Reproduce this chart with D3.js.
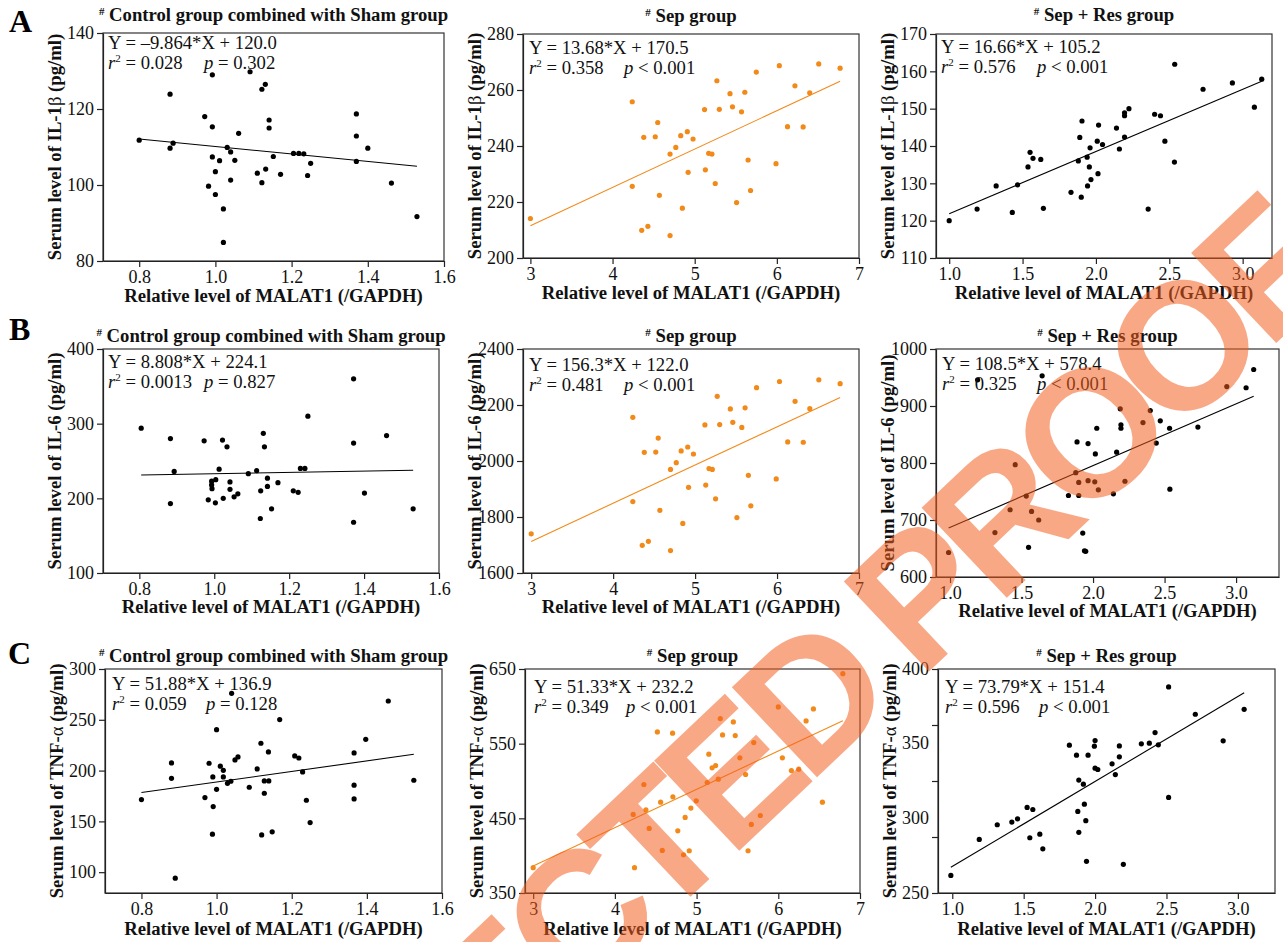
<!DOCTYPE html>
<html>
<head>
<meta charset="utf-8">
<script src="https://cdn.jsdelivr.net/npm/d3@7"></script>
<style>
  body { margin: 0; background: #fff; }
  svg { display: block; }
</style>
</head>
<body>
<div class="chart"></div>
<script>
// ---- data ----
// A: IL-1beta
var ctrlIL1bX = [0.80,0.881,0.881,0.889,0.972,0.992,0.992,0.992,0.982,1.0,1.0,1.011,1.021,1.021,1.031,1.04,1.04,1.051,1.061,1.091,1.11,1.122,1.131,1.122,1.132,1.141,1.141,1.152,1.171,1.205,1.219,1.232,1.242,1.25,1.37,1.37,1.37,1.40,1.462,1.529];
var ctrlIL1bY = [111.8,123.9,109.7,111.0,118.0,129.0,115.3,107.4,99.7,103.5,97.5,106.4,93.7,84.9,109.9,108.7,101.3,106.5,113.6,129.8,103.1,125.2,126.5,100.6,104.2,117.1,115.0,107.5,102.8,108.3,108.3,108.2,102.5,105.7,118.7,112.9,106.2,109.7,100.5,91.7];

var sepX = [3.0,4.24,4.24,4.355,4.38,4.43,4.52,4.55,4.57,4.70,4.70,4.77,4.83,4.85,4.91,4.92,4.98,5.12,5.13,5.17,5.21,5.25,5.27,5.30,5.43,5.46,5.51,5.57,5.61,5.65,5.68,5.75,5.99,6.03,6.13,6.22,6.32,6.40,6.51,6.77];
var sepIL1bY = [214.1,255.8,225.6,209.9,243.1,211.3,243.3,248.4,222.4,237.1,208.0,239.5,243.7,217.8,245.1,230.6,242.5,253.0,231.5,237.4,237.1,226.6,263.3,253.1,258.7,254.0,219.8,252.2,259.2,235.0,224.1,266.4,233.7,268.7,246.9,261.5,246.8,259.0,269.3,267.8];

var resIL1bX = [1.0,1.19,1.32,1.43,1.466,1.537,1.551,1.571,1.624,1.642,1.83,1.88,1.89,1.90,1.905,1.94,1.943,1.955,1.96,1.966,2.009,2.018,2.014,2.045,2.14,2.16,2.195,2.195,2.195,2.225,2.356,2.40,2.44,2.47,2.535,2.537,2.73,2.93,3.08,3.13];
var resIL1bY = [120.0,123.1,129.3,122.2,129.6,134.4,138.3,136.7,136.4,123.3,127.6,136.0,142.3,126.3,146.7,137.0,129.3,134.4,139.5,131.0,141.3,145.6,132.6,140.4,144.8,139.2,148.1,148.9,142.4,150.0,123.1,148.5,148.1,141.3,135.7,161.9,155.2,156.9,150.4,157.9];

// B: IL-6
var ctrlIL6X = [0.805,0.883,0.883,0.893,0.973,0.984,0.993,0.993,0.994,1.004,1.003,1.022,1.024,1.034,1.013,1.042,1.042,1.053,1.063,1.091,1.113,1.124,1.123,1.131,1.134,1.142,1.142,1.153,1.170,1.211,1.224,1.23,1.242,1.25,1.372,1.372,1.372,1.401,1.46,1.531];
var ctrlIL6Y = [294,280,193,236,277,198,223,218,213,225,194,278,200,269,239,222,212,202,206,233,237,210,173,287,269,227,216,186,221,210,208,240,240,310,360,274,168,207,284,186];

var sepIL6Y = [1740,2156,1855,1699,2031,1713,2032,2082,1824,1970,1680,1994,2036,1777,2050,1906,2025,2129,1914,1973,1970,1865,2231,2130,2186,2138,1798,2120,2190,1949,1840,2262,1936,2284,2068,2213,2067,2187,2290,2276];

var resIL6X = [0.99,1.193,1.314,1.42,1.456,1.533,1.549,1.57,1.62,1.644,1.828,1.879,1.888,1.9,1.9,1.928,1.94,1.949,1.965,1.965,2.012,2.016,2.026,2.037,2.142,2.165,2.19,2.195,2.195,2.223,2.349,2.40,2.442,2.47,2.535,2.537,2.733,2.935,3.07,3.123];
var resIL6Y = [643,946,678,718,797,742,652,715,700,953,743,783,837,766,743,677,646,645,834,769,767,816,861,753,746,819,895,867,861,768,871,892,835,874,861,754,863,934,932,964];

// C: TNF-alpha
var ctrlTNFX = [0.80,0.88,0.88,0.89,0.969,0.98,0.99,0.991,0.989,1.0,1.0,1.01,1.018,1.018,1.029,1.038,1.04,1.049,1.057,1.087,1.108,1.118,1.12,1.127,1.127,1.139,1.138,1.148,1.168,1.208,1.219,1.229,1.239,1.249,1.366,1.366,1.366,1.397,1.457,1.525];
var ctrlTNFY = [171.5,207.5,192.4,94.1,173.4,207.2,193.8,164.6,137.4,240.3,181.6,204.3,200.3,193.8,187.5,189.5,276.1,210.5,213.4,183.6,201.6,226.9,136.7,189.8,177.7,189.8,218.4,139.7,250.2,214.4,212.4,198.7,170.8,148.8,217.4,185.6,172.1,230.8,268.5,190.5];

var sepTNFX = [3.0,4.224,4.24,4.355,4.38,4.42,4.52,4.56,4.58,4.706,4.71,4.77,4.84,4.86,4.91,4.93,4.996,5.13,5.15,5.19,5.233,5.265,5.29,5.318,5.45,5.473,5.53,5.60,5.63,5.70,5.67,5.78,6.0,6.05,6.16,6.25,6.34,6.43,6.54,6.79];
var sepTNFY = [383.9,455.2,383.9,495.3,461.4,436.5,565.7,471.7,407.0,564.0,478.8,433.3,401.2,451.2,406.6,463.7,473.5,498.0,535.9,517.6,520.7,502.4,583.6,561.7,579.1,560.8,531.0,508.7,406.6,551.5,441.8,453.8,599.2,531.0,514.0,515.8,580.5,596.5,471.7,643.8];

var resTNFX = [0.99,1.189,1.315,1.417,1.457,1.524,1.564,1.543,1.613,1.634,1.82,1.87,1.879,1.886,1.886,1.918,1.925,1.935,1.94,1.951,1.995,2.0,2.0,2.019,2.119,2.142,2.17,2.17,2.198,2.324,2.38,2.42,2.443,2.515,2.515,2.702,2.897,3.044];
var resTNFY = [261.8,285.9,295.7,297.5,299.7,307.3,305.9,287.0,289.4,279.6,349.0,342.3,304.6,325.6,290.6,322.9,309.5,298.4,271.2,342.3,348.3,352.1,333.6,332.7,336.5,329.3,348.5,341.2,269.2,349.9,350.3,357.4,349.2,388.0,314.0,369.7,351.9,373.0];

// regression lines as drawn [slope, intercept]
var fitLines = [[-9.864,120.0],[13.68,170.5],[16.66,105.2],
                [8.808,224.1],[136.3,1304],[108.5,578.4],
                [51.88,136.9],[51.33,232.2],[56.9,210.9]];

// printed statistics
var eqTexts = ["Y = \u20139.864*X + 120.0","Y = 13.68*X + 170.5","Y = 16.66*X + 105.2",
               "Y = 8.808*X + 224.1","Y = 156.3*X + 122.0","Y = 108.5*X + 578.4",
               "Y = 51.88*X + 136.9","Y = 51.33*X + 232.2","Y = 73.79*X + 151.4"];
var r2Texts = ["0.028","0.358","0.576","0.0013","0.481","0.325","0.059","0.349","0.596"];
var pTexts = ["= 0.302","< 0.001","< 0.001","= 0.827","< 0.001","< 0.001","= 0.128","< 0.001","< 0.001"];

// axis ticks
var ctrlXTicks = [0.8,1.0,1.2,1.4,1.6];
var sepXTicks = [3,4,5,6,7];
var resXTicks = [1.0,1.5,2.0,2.5,3.0];
var yTicksA = [[80,100,120,140],[200,220,240,260,280],[110,120,130,140,150,160,170]];
var yTicksB = [[100,200,300,400],[1600,1800,2000,2200,2400],[600,700,800,900,1000]];
var yTicksC = [[100,150,200,250,300],[350,450,550,650],[250,287.5,325,362.5,400]];
var resTNFYLabels = [250,300,350,400];

var colTitles = ["Control group combined with Sham group","Sep group","Sep + Res group"];
var rowLetters = ["A","B","C"];
var rowMarkers = [["Serum level of IL-1","\u03b2"," (pg/ml)"],["Serum level of IL-6","",""," (pg/ml)"],["Serum level of TNF-","\u03b1"," (pg/ml)"]];

// ---- layout ----
var serif = "'Liberation Serif','Times New Roman',Times,serif";
var orange = "#f28a1a";
var fs = 18.7;

var layout = [
  {l:103, t:33, r:444, b:261, xd:[0.705,1.6], yd:[80,140],   eqDy:16, eqDx:5, tGap:12, xlab:40.5},
  {l:523, t:34, r:859, b:258, xd:[2.91,7],    yd:[200,280],  eqDy:20, eqDx:6, tGap:12.5, xlab:40.5},
  {l:936, t:34, r:1272,b:258, xd:[0.91,3.2],  yd:[110,170],  eqDy:19, eqDx:5, tGap:13, xlab:40.5},
  {l:103, t:349,r:439, b:573, xd:[0.703,1.6], yd:[100,400],  eqDy:19, eqDx:5, tGap:7.5, xlab:39.5},
  {l:523, t:349,r:859, b:573, xd:[2.9,7],     yd:[1600,2400],eqDy:22, eqDx:6, tGap:7, xlab:40},
  {l:936, t:349,r:1279,b:577, xd:[0.902,3.3], yd:[600,1000], eqDy:21, eqDx:6, tGap:7.5, xlab:39.5},
  {l:105, t:669,r:442, b:893, xd:[0.703,1.6], yd:[79.5,300], eqDy:21, eqDx:7, tGap:7.5, xlab:41.5},
  {l:525, t:669,r:860, b:893, xd:[2.9,7],     yd:[350,650],  eqDy:24, eqDx:9, tGap:7.5, xlab:41.5},
  {l:938, t:669,r:1275,b:893, xd:[0.9,3.26],  yd:[250,400],  eqDy:24, eqDx:7, tGap:7.5, xlab:41.5}
];

var panelData = [
  [ctrlIL1bX, ctrlIL1bY], [sepX, sepIL1bY], [resIL1bX, resIL1bY],
  [ctrlIL6X, ctrlIL6Y],   [sepX, sepIL6Y],  [resIL6X, resIL6Y],
  [ctrlTNFX, ctrlTNFY],   [sepTNFX, sepTNFY], [resTNFX, resTNFY]
];
var yTicksAll = yTicksA.concat(yTicksB, yTicksC);
var xTicksCols = [ctrlXTicks, sepXTicks, resXTicks];
var xFmtCols = [d3.format(".1f"), d3.format("d"), d3.format(".1f")];

var svg = d3.select(".chart").append("svg")
    .attr("width", 1283)
    .attr("height", 942);

svg.append("rect").attr("width", 1283).attr("height", 942).attr("fill", "#fff");

function styleAxis(g) {
  g.attr("font-family", serif).attr("font-size", 18);
  g.selectAll("path.domain").attr("stroke", "#222").attr("stroke-width", 1.2);
  g.selectAll(".tick line").attr("stroke", "#222").attr("stroke-width", 1.2);
  g.selectAll(".tick text").attr("fill", "#111");
}

layout.forEach(function(p, i) {
  var row = Math.floor(i / 3), col = i % 3;
  var pts = panelData[i][0].map(function(xv, k) { return {x: xv, y: panelData[i][1][k]}; });
  var color = col === 1 ? orange : "#000";

  var x = d3.scaleLinear().domain(p.xd).range([p.l, p.r]);
  var y = d3.scaleLinear().domain(p.yd).range([p.b, p.t]);

  var g = svg.append("g");

  // frame
  g.append("rect")
    .attr("x", p.l).attr("y", p.t)
    .attr("width", p.r - p.l).attr("height", p.b - p.t)
    .attr("fill", "none").attr("stroke", "#333").attr("stroke-width", 1.2);

  // axes
  g.append("g")
    .attr("transform", `translate(0,${p.b})`)
    .call(d3.axisBottom(x).tickValues(xTicksCols[col]).tickFormat(xFmtCols[col])
          .tickSize(6).tickSizeOuter(0).tickPadding(3))
    .call(styleAxis);

  var yAxis = d3.axisLeft(y).tickValues(yTicksAll[i]).tickFormat(d3.format("d"))
      .tickSize(6).tickSizeOuter(0).tickPadding(3);
  if (i === 8) yAxis.tickFormat("");   // TNF Sep+Res: labels don't sit on the ticks
  g.append("g")
    .attr("transform", `translate(${p.l},0)`)
    .call(yAxis)
    .call(styleAxis);

  if (i === 8) {
    g.selectAll("text.ylab")
      .data(resTNFYLabels)
      .enter()
      .append("text")
      .attr("class", "ylab")
      .attr("x", p.l - 9)
      .attr("y", d => y(d))
      .attr("dy", "0.32em")
      .attr("text-anchor", "end")
      .attr("font-family", serif).attr("font-size", 18).attr("fill", "#111")
      .text(d => d);
  }

  // regression line
  var f = fitLines[i];
  var ext = d3.extent(pts, d => d.x);
  g.append("line")
    .attr("x1", x(ext[0])).attr("y1", y(f[0] * ext[0] + f[1]))
    .attr("x2", x(ext[1])).attr("y2", y(f[0] * ext[1] + f[1]))
    .attr("stroke", color).attr("stroke-width", 1.1);

  // points
  g.selectAll("circle")
    .data(pts)
    .enter()
    .append("circle")
    .attr("cx", d => x(d.x))
    .attr("cy", d => y(d.y))
    .attr("r", 2.6)
    .attr("fill", color);

  // equation text
  g.append("text")
    .attr("x", p.l + p.eqDx).attr("y", p.t + p.eqDy)
    .attr("font-family", serif).attr("font-size", fs).attr("fill", "#111")
    .text(eqTexts[i]);
  var t2 = g.append("text")
    .attr("x", p.l + p.eqDx).attr("y", p.t + p.eqDy + 20)
    .attr("font-family", serif).attr("font-size", fs).attr("fill", "#111");
  t2.append("tspan").attr("font-style", "italic").text("r");
  t2.append("tspan").attr("font-size", 11).attr("dy", -7).text("2");
  t2.append("tspan").attr("dy", 7).text(" = " + r2Texts[i]);
  var t3 = g.append("text")
    .attr("x", p.l + 101).attr("y", p.t + p.eqDy + 20)
    .attr("font-family", serif).attr("font-size", fs).attr("fill", "#111");
  t3.append("tspan").attr("font-style", "italic").text("p");
  t3.append("tspan").text(" " + pTexts[i]);

  // panel title
  var tt = g.append("text")
    .attr("x", (p.l + p.r) / 2).attr("y", p.t - p.tGap)
    .attr("text-anchor", "middle")
    .attr("font-family", serif).attr("font-weight", "bold").attr("font-size", fs).attr("fill", "#111");
  tt.append("tspan").attr("font-size", 11).attr("dy", -6).text("#");
  tt.append("tspan").attr("dy", 6).text(" " + colTitles[col]);

  // x axis label
  g.append("text")
    .attr("x", (p.l + p.r) / 2).attr("y", p.b + p.xlab)
    .attr("text-anchor", "middle")
    .attr("font-family", serif).attr("font-weight", "bold").attr("font-size", fs).attr("fill", "#111")
    .text("Relative level of MALAT1 (/GAPDH)");

  // y axis label
  var m = rowMarkers[row];
  var yl = g.append("text")
    .attr("transform", `translate(${p.l - 42},${(p.t + p.b) / 2}) rotate(-90)`)
    .attr("text-anchor", "middle")
    .attr("font-family", serif).attr("font-weight", "bold").attr("font-size", fs).attr("fill", "#111");
  yl.append("tspan").text(m[0]);
  if (m[1]) yl.append("tspan").attr("font-weight", "normal").text(m[1]);
  yl.append("tspan").text(m[m.length - 1]);
});

// row letters
var letterPos = [[9, 32], [9, 340], [8, 664]];
rowLetters.forEach(function(L, r) {
  svg.append("text")
    .attr("x", letterPos[r][0]).attr("y", letterPos[r][1])
    .attr("font-family", serif).attr("font-weight", "bold").attr("font-size", 32).attr("fill", "#000")
    .text(L);
});

// watermark
svg.append("text")
  .attr("transform", "translate(150,1408) rotate(-43.4)")
  .attr("font-family", "'Liberation Sans',Arial,sans-serif")
  .attr("font-weight", "bold")
  .attr("font-size", 180)
  .attr("letter-spacing", -13)
  .attr("fill", "#f55d1c")
  .attr("opacity", 0.53)
  .text("CORRECTED PROOF");
</script>
</body>
</html>
